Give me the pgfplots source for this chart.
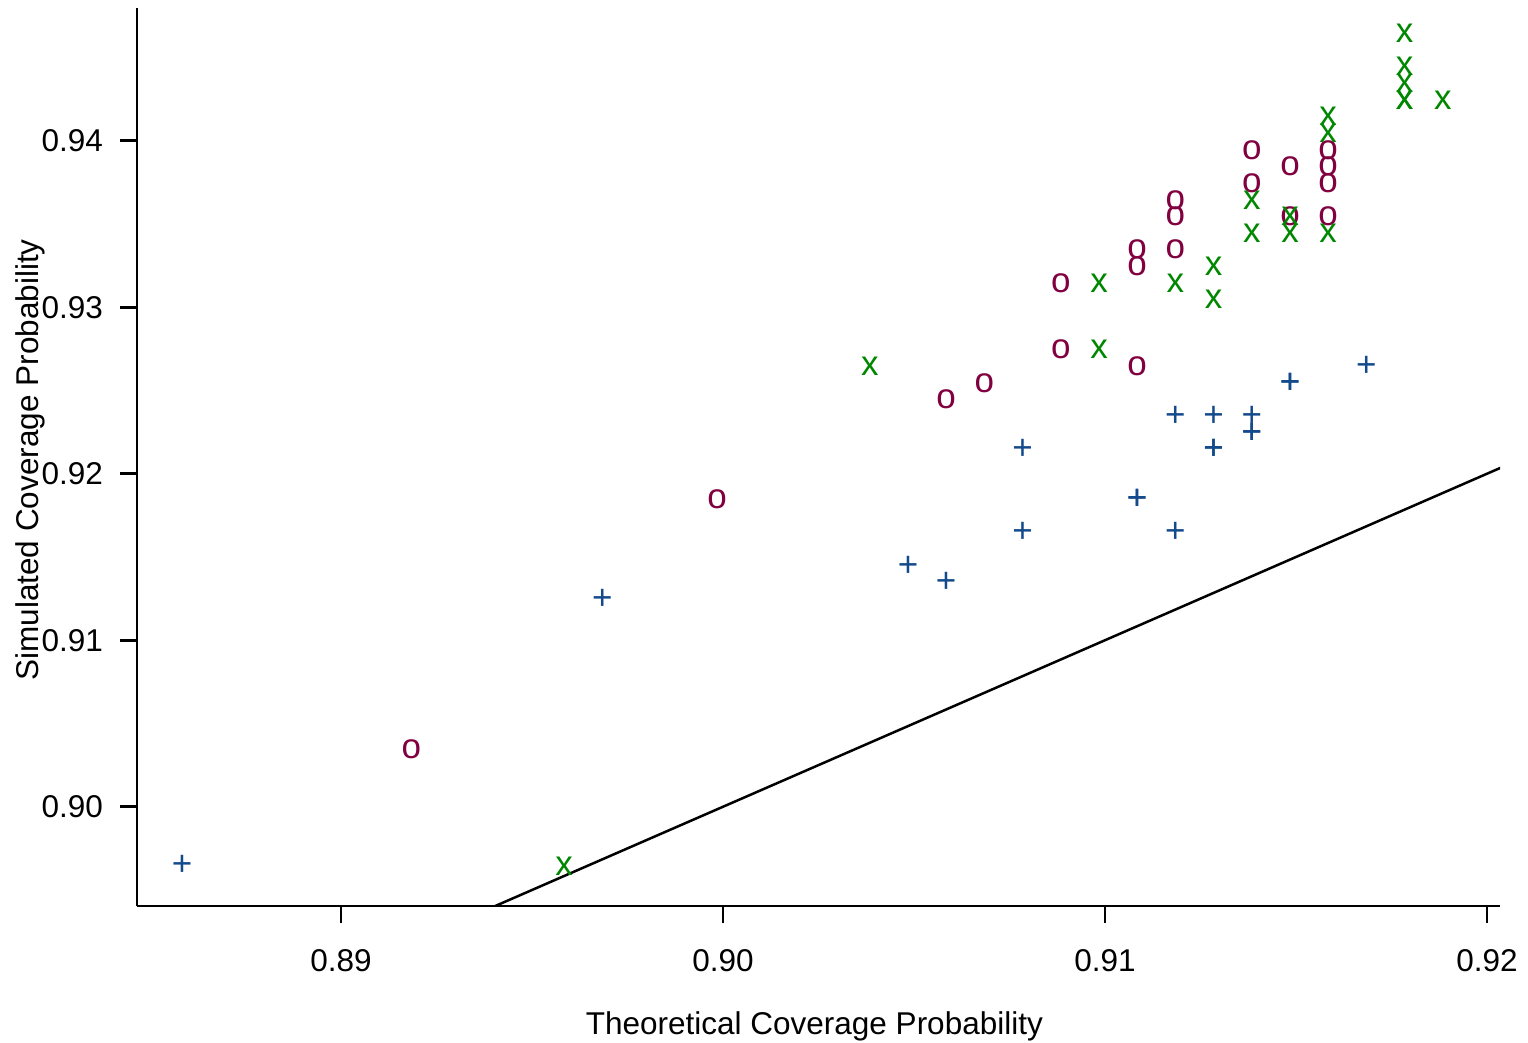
\documentclass[border=0pt]{standalone}
\usepackage{fontspec}
\setmainfont{Liberation Sans}
\usepackage{pgfplots}
\pgfplotsset{compat=1.18}

\definecolor{plusblue}{RGB}{18,74,140}
\definecolor{omaroon}{RGB}{128,0,64}
\definecolor{xgreen}{RGB}{0,135,0}

\newcommand{\lab}{\fontsize{15.75}{19}\selectfont}
\newcommand{\mk}{\fontsize{17.5}{20}\selectfont}

\pgfplotstableread{
x y
0.886 0.896
0.897 0.912
0.905 0.914
0.906 0.913
0.908 0.916
0.908 0.921
0.911 0.918
0.911 0.918
0.912 0.916
0.912 0.923
0.913 0.923
0.913 0.921
0.913 0.921
0.914 0.923
0.914 0.922
0.914 0.922
0.915 0.925
0.915 0.925
0.917 0.926
}\plusdata

\pgfplotstableread{
x y
0.892 0.903
0.900 0.918
0.906 0.924
0.907 0.925
0.909 0.927
0.909 0.931
0.911 0.926
0.911 0.932
0.911 0.933
0.912 0.936
0.912 0.935
0.912 0.933
0.914 0.939
0.914 0.937
0.915 0.938
0.915 0.935
0.916 0.939
0.916 0.938
0.916 0.937
0.916 0.935
}\odata

\pgfplotstableread{
x y
0.896 0.896
0.904 0.926
0.910 0.927
0.910 0.931
0.912 0.931
0.913 0.932
0.913 0.930
0.914 0.936
0.914 0.934
0.915 0.935
0.915 0.934
0.916 0.941
0.916 0.940
0.916 0.934
0.918 0.946
0.918 0.944
0.918 0.943
0.918 0.942
0.918 0.942
0.919 0.942
}\xdata

\begin{document}
\begin{tikzpicture}
\path[use as bounding box] (-68.5pt,-68.5pt) rectangle (695.5pt,453pt);
\begin{axis}[
  at={(0,0)}, anchor=south west,
  scale only axis,
  width=681.5pt, height=449pt,
  xmin=0.88466, xmax=0.92034,
  ymin=0.89404, ymax=0.94797,
  axis x line=bottom, axis y line=left,
  axis line style={-, line width=1.3pt, black},
  tick align=outside,
  major tick length=8.5pt,
  tick style={line width=1.3pt, black},
  xtick={0.89,0.90,0.91,0.92},
  xticklabels={0.89,0.90,0.91,0.92},
  ytick={0.90,0.91,0.92,0.93,0.94},
  yticklabels={0.90,0.91,0.92,0.93,0.94},
  tick label style={font=\lab},
  xticklabel style={yshift=-9.5pt},
  yticklabel style={xshift=-5pt},
  label style={font=\lab},
  xlabel={Theoretical Coverage Probability},
  ylabel={Simulated Coverage Probability},
  xlabel style={at={(axis description cs:0.497,-0.1336)}, anchor=center},
  ylabel style={at={(axis description cs:-0.0785,0.4967)}, anchor=center},
  text mark as node=true,
]
\addplot[black, line width=1.25pt] coordinates {(0.884,0.884) (0.921,0.921)};
\addplot[only marks, mark=text, text mark={+},
  text mark style={font=\mk, text=plusblue, inner sep=0pt, xshift=-3pt, yshift=3.75pt}]
  table {\plusdata};
\addplot[only marks, mark=text, text mark={o},
  text mark style={font=\mk, text=omaroon, inner sep=0pt, xshift=-3pt, yshift=3.75pt}]
  table {\odata};
\addplot[only marks, mark=text, text mark={x},
  text mark style={font=\mk, text=xgreen, inner sep=0pt, xshift=-3pt, yshift=3.75pt}]
  table {\xdata};
\end{axis}
\end{tikzpicture}
\end{document}
